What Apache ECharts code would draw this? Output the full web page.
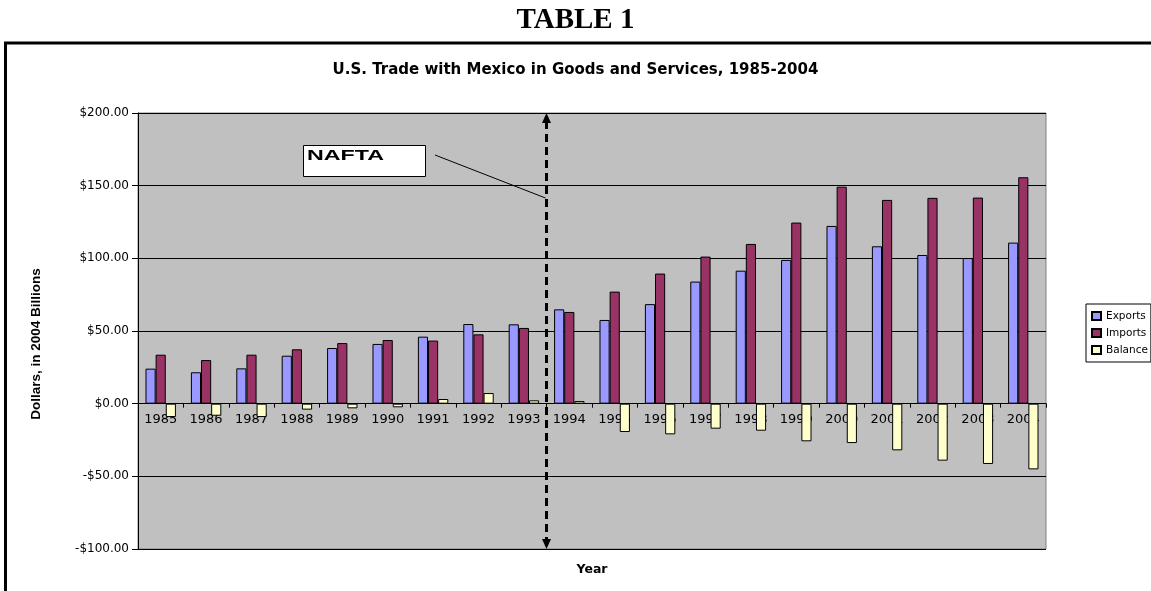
<!DOCTYPE html>
<html><head><meta charset="utf-8">
<script src="https://cdn.jsdelivr.net/npm/echarts@6/dist/echarts.min.js"></script>
<style>html,body{margin:0;padding:0;background:#fff}#c{width:1151px;height:591px}</style>
</head><body><div id="c"></div>
<script>
const years = ['1985','1986','1987','1988','1989','1990','1991','1992','1993','1994','1995','1996','1997','1998','1999','2000','2001','2002','2003','2004'];
const exportsVals = [24.1, 21.6, 24.3, 33.0, 38.3, 41.1, 46.1, 54.8, 54.6, 64.9, 57.6, 68.5, 84.0, 91.5, 98.9, 122.3, 108.3, 102.3, 100.2, 110.8];
const importsVals = [33.7, 30.0, 33.7, 37.4, 41.7, 43.8, 43.4, 47.7, 52.1, 63.1, 77.1, 89.5, 101.2, 109.9, 124.6, 149.3, 140.2, 141.6, 141.8, 155.8];
const balanceVals = [-9.2, -8.3, -9.2, -4.1, -3.2, -2.5, 3.2, 7.3, 2.3, 1.8, -19.5, -21.1, -17.2, -18.6, -25.9, -27.1, -32.1, -39.2, -41.5, -45.2];
const yMin = -100, yMax = 200, yStep = 50;
const naftaBefore = '1993', naftaAfter = '1994';

const gridTop = 113, gridBottom = 42, chartH = 591;
const plotH = chartH - gridTop - gridBottom;
// shift the category axis up from the grid bottom to the y = 0 line
const zeroOffset = -plotH * (0 - yMin) / (yMax - yMin);

const chart = echarts.init(document.getElementById('c'), null, {renderer: 'canvas'});
const barStyle = (c) => ({color: c, borderColor: '#000', borderWidth: 1});
const option = {
  animation: false,
  backgroundColor: '#fff',
  title: [
    {text: 'TABLE 1', left: 'center', top: 6, padding: 0,
     textStyle: {fontFamily: 'Liberation Serif', fontWeight: 'bold', fontSize: 29, color: '#000'}},
    {text: 'U.S. Trade with Mexico in Goods and Services, 1985-2004', left: 'center', top: 63, padding: 0,
     textStyle: {fontFamily: 'DejaVu Sans', fontWeight: 'bold', fontSize: 15, color: '#000'}}
  ],
  legend: {
    orient: 'vertical', left: 1086, top: 304,
    padding: [5, 3, 5, 5], itemGap: 3, itemWidth: 9, itemHeight: 8,
    borderColor: '#000', borderWidth: 1, backgroundColor: '#fff',
    icon: 'rect',
    textStyle: {fontFamily: 'DejaVu Sans', fontSize: 10.5, color: '#000', lineHeight: 14},
    data: ['Exports', 'Imports', 'Balance']
  },
  grid: {left: 138, right: 105, top: gridTop, bottom: gridBottom, containLabel: false, outerBoundsMode: 'none',
         show: true, backgroundColor: '#C0C0C0', borderColor: '#808080', borderWidth: 1},
  xAxis: {
    type: 'category', data: years, position: 'bottom', offset: zeroOffset,
    name: 'Year', nameLocation: 'middle', nameGap: 160,
    nameTextStyle: {fontFamily: 'DejaVu Sans', fontWeight: 'bold', fontSize: 12.5, color: '#000'},
    axisLine: {onZero: false, lineStyle: {color: '#000', width: 1}},
    axisTick: {show: true, length: 4, lineStyle: {color: '#000'}},
    axisLabel: {fontFamily: 'DejaVu Sans', fontSize: 13, color: '#000', margin: 9, interval: 0}
  },
  yAxis: {
    type: 'value', min: yMin, max: yMax, interval: yStep,
    name: 'Dollars, in 2004 Billions', nameLocation: 'middle', nameGap: 95,
    nameTextStyle: {fontFamily: 'Liberation Sans', fontWeight: 'bold', fontSize: 13.5, color: '#000', padding: [0, 26, 0, 0]},
    axisLine: {show: true, lineStyle: {color: '#000', width: 1}},
    axisTick: {show: true, length: 6, lineStyle: {color: '#000'}},
    splitLine: {show: true, lineStyle: {color: '#000', width: 1}},
    axisLabel: {fontFamily: 'DejaVu Sans', fontSize: 12, color: '#000', margin: 9,
      formatter: v => (v < 0 ? '-' : '') + '$' + Math.abs(v).toFixed(2)}
  },
  series: [
    {name: 'Exports', type: 'bar', data: exportsVals, itemStyle: barStyle('#9999FF'), barGap: '0%', barCategoryGap: '33%'},
    {name: 'Imports', type: 'bar', data: importsVals, itemStyle: barStyle('#993366'), barGap: '0%', barCategoryGap: '33%'},
    {name: 'Balance', type: 'bar', data: balanceVals, itemStyle: barStyle('#FFFFCC'), barGap: '0%', barCategoryGap: '33%'}
  ]
};
chart.setOption(option);

const xa = chart.convertToPixel({xAxisIndex: 0}, naftaBefore);
const xb = chart.convertToPixel({xAxisIndex: 0}, naftaAfter);
const xN = Math.round((xa + xb) / 2) - 0.5;
const yTop = chart.convertToPixel({yAxisIndex: 0}, yMax);
const yBot = chart.convertToPixel({yAxisIndex: 0}, yMin);

chart.setOption({
  graphic: [
    {type: 'polyline', z: 100, shape: {points: [[5.5, 591], [5.5, 43], [1151, 43]]}, style: {stroke: '#000', lineWidth: 3, fill: null}},
    {type: 'line', z: 100, shape: {x1: xN, y1: yTop + 8, x2: xN, y2: yBot - 8}, style: {stroke: '#000', lineWidth: 3, lineDash: [8, 5]}},
    {type: 'polygon', z: 100, shape: {points: [[xN, yTop], [xN - 4.5, yTop + 10], [xN + 4.5, yTop + 10]]}, style: {fill: '#000'}},
    {type: 'polygon', z: 100, shape: {points: [[xN, yBot], [xN - 4.5, yBot - 10], [xN + 4.5, yBot - 10]]}, style: {fill: '#000'}},
    {type: 'rect', z: 100, shape: {x: 303.5, y: 145.5, width: 122, height: 31}, style: {fill: '#fff', stroke: '#000', lineWidth: 1}},
    {type: 'text', z: 101, x: 307, y: 148, scaleX: 1.55, style: {text: 'NAFTA', font: 'bold 15px "Liberation Sans"', fill: '#000'}},
    {type: 'line', z: 100, shape: {x1: 435, y1: 155, x2: xN - 1, y2: 198}, style: {stroke: '#000', lineWidth: 1}}
  ]
});
</script>
</body></html>
